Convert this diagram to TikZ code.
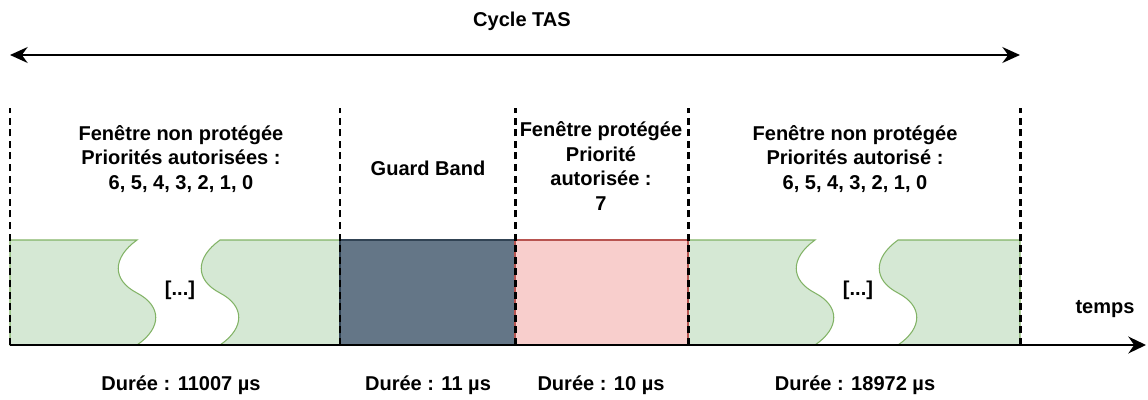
\documentclass[tikz,border=0pt]{standalone}
\usepackage{fontspec}
\setmainfont{Liberation Sans}
\usetikzlibrary{arrows.meta}

\definecolor{greenfill}{HTML}{D5E8D4}
\definecolor{greenline}{HTML}{82B366}
\definecolor{grayfill}{HTML}{647687}
\definecolor{grayline}{HTML}{314354}
\definecolor{redfill}{HTML}{F8CECC}
\definecolor{redline}{HTML}{B85450}

\begin{document}
\begin{tikzpicture}[x=0.02cm, y=-0.02cm,
		text_style/.style={font=\bfseries\fontsize{11.4}{14}\selectfont, align=center, inner sep=0pt},
		sep_style/.style={draw=black, line width=1.7pt, dash pattern=on 4pt off 2.6pt},
		green_style/.style={fill=greenfill, draw=greenline, line width=0.6pt},
		arrow_style/.style={draw=black, line width=1.5pt, {Stealth[length=10pt,width=9pt]}-{Stealth[length=10pt,width=9pt]}},
		axis_style/.style={draw=black, line width=1.7pt, -{Stealth[length=10pt,width=9.5pt]}}]
		\useasboundingbox (0,0) rectangle (1148,399);
		% time marks
		\coordinate (m0) at (10,345);
		\coordinate (m1) at (340,345);
		\coordinate (m2) at (515,345);
		\coordinate (m3) at (688,345);
		\coordinate (m4) at (1020,345);
		\coordinate (tend) at (1146,345);
		\coordinate (c0) at (10,55);
		\coordinate (c1) at (1020,55);
		% bands
		\path[green_style] (10,240) -- (137,240) .. controls (112,258) and (112,280) .. (137,293)
			.. controls (162,306) and (162,328) .. (137,345) -- (10,345) -- cycle;
		\path[green_style] (340,240) -- (220,240) .. controls (195,258) and (195,280) .. (220,293)
			.. controls (245,306) and (245,328) .. (220,345) -- (340,345) -- cycle;
		\path[green_style] (688,240) -- (815,240) .. controls (790,258) and (790,280) .. (815,293)
			.. controls (840,306) and (840,328) .. (815,345) -- (688,345) -- cycle;
		\path[green_style] (1020,240) -- (898,240) .. controls (873,258) and (873,280) .. (898,293)
			.. controls (923,306) and (923,328) .. (898,345) -- (1020,345) -- cycle;
		\path[fill=grayfill, draw=grayline, line width=0.6pt] (340,240) rectangle (515,345);
		\path[fill=redfill, draw=redline, line width=0.6pt] (515,240) rectangle (688,345);
		% separators
		\foreach \i in {0,...,4}
			\draw[sep_style] (m\i) -- ++(0,-237);
		\draw[arrow_style] (c0) -- (c1);
		\draw[axis_style] (m0) -- (tend);
		% labels
		\node[text_style] (cycle) at (522,21) {Cycle TAS};
		\node[text_style] (temps) at (1105,309) {temps};
		\node[text_style] (dots1) at (180,290) {[...]};
		\node[text_style] (dots2) at (858,290) {[...]};
		\node[text_style] (w1) at (181,159) {Fenêtre non protégée\\Priorités autorisées :\\6, 5, 4, 3, 2, 1, 0};
		\node[text_style] (w2) at (428,168) {Guard Band};
		\node[text_style] (w3) at (601,166) {Fenêtre protégée\\Priorité\\autorisée :\\7};
		\node[text_style] (w4) at (855,159) {Fenêtre non protégée\\Priorités autorisé :\\6, 5, 4, 3, 2, 1, 0};
		\node[text_style] (d1) at (181,385) {Durée : 11007 µs};
		\node[text_style] (d2) at (428,385) {Durée : 11 µs};
		\node[text_style] (d3) at (601,385) {Durée : 10 µs};
		\node[text_style] (d4) at (855,385) {Durée : 18972 µs};
\end{tikzpicture}
\end{document}
